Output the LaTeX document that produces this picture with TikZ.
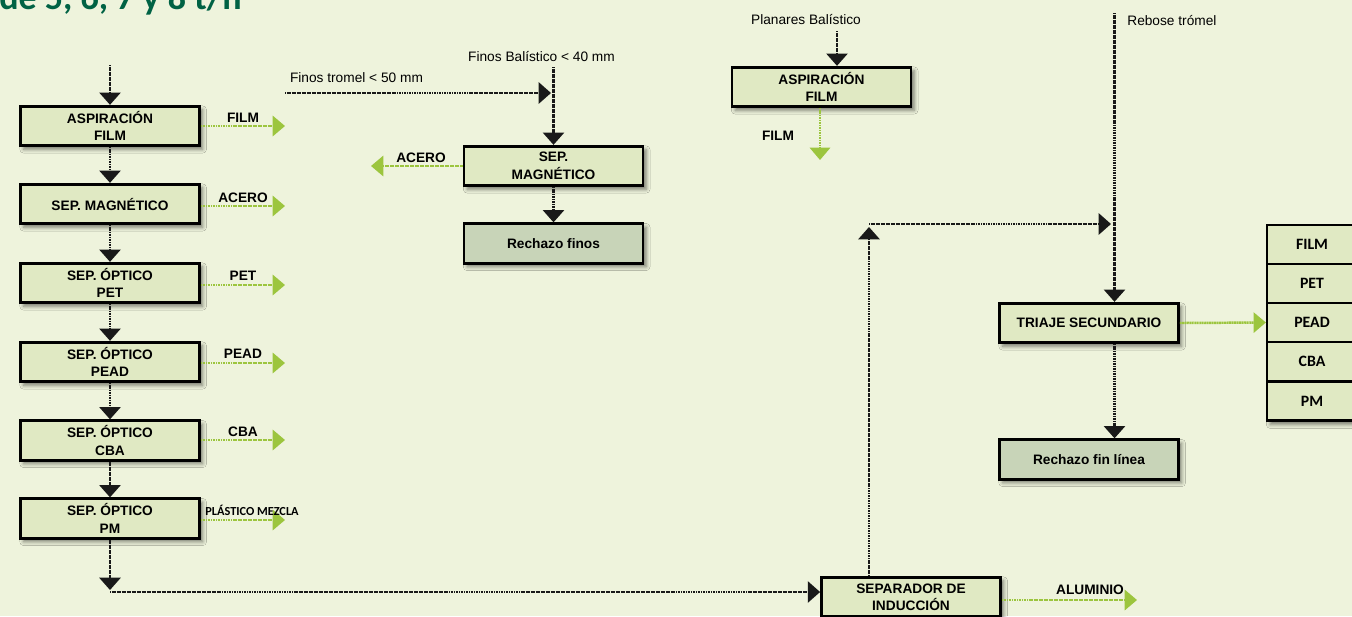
\documentclass[tikz,border=0pt]{standalone}
\usepackage{fontspec}
\setmainfont{Liberation Sans}
\newfontfamily\calfont{Carlito}
\usetikzlibrary{arrows.meta,shadows.blur}

\definecolor{bg}{RGB}{238,243,220}
\definecolor{boxfill}{RGB}{224,233,195}
\definecolor{rejfill}{RGB}{200,212,184}
\definecolor{flowgreen}{RGB}{156,197,62}
\definecolor{titlegreen}{RGB}{0,98,68}

\tikzset{
  boxshadow/.style={blur shadow={shadow xshift=1.8pt, shadow yshift=-2pt,
      shadow blur radius=2.2pt, shadow opacity=50}},
  stepbox/.style={draw=black, line width=1.6pt, fill=boxfill,
      minimum width=3.58cm, minimum height=0.79cm, inner sep=0pt,
      align=center, font=\bfseries\fontsize{7.8}{10}\selectfont, boxshadow},
  rejbox/.style={stepbox, fill=rejfill},
  flow/.style={draw=black!90, line width=1.4pt, dash pattern=on 0.7pt off 0.25pt,
      -{Triangle[length=7pt,width=12pt]}},
  outflow/.style={draw=flowgreen, line width=1.4pt, dash pattern=on 0.7pt off 0.25pt,
      -{Triangle[length=7pt,width=11.5pt]}},
  outlbl/.style={font=\bfseries\fontsize{7.8}{10}\selectfont, anchor=base, inner sep=0pt},
  note/.style={font=\fontsize{7.8}{10}\selectfont, inner sep=0pt},
  cell/.style={draw=black, line width=1.3pt, fill=boxfill,
      minimum width=1.8cm, minimum height=0.78cm, inner sep=0pt,
      font=\calfont\bfseries\fontsize{9}{10}\selectfont}
}

\begin{document}
\begin{tikzpicture}[x=0.02cm, y=-0.02cm]
  % canvas
  \useasboundingbox (0,0) rectangle (1352,616);
  \clip (0,0) rectangle (1352,616);
  \fill[bg] (0,0) rectangle (1352,616);

  % heading (top line cut off)
  \node[anchor=base west, inner sep=0pt, text=titlegreen,
        font=\calfont\bfseries\fontsize{20.5}{24}\selectfont] (title) at (-1,9) {de 5, 6, 7 y 8 t/h};

  % ---------- main sorting line ----------
  \coordinate (a0) at (110,65);
  \node[stepbox] (a1) at (110,126)   {ASPIRACIÓN\\FILM};
  \node[stepbox] (a2) at (110,204)   {SEP. MAGNÉTICO};
  \node[stepbox] (a3) at (110,283)   {SEP. ÓPTICO\\PET};
  \node[stepbox] (a4) at (110,362)   {SEP. ÓPTICO\\PEAD};
  \node[stepbox] (a5) at (110,440.5) {SEP. ÓPTICO\\CBA};
  \node[stepbox] (a6) at (110,518.5) {SEP. ÓPTICO\\PM};
  \coordinate (a7) at (110,590);
  \coordinate (a8) at (110,592);

  \draw[flow] (a0) -- (a1.north);
  \draw[flow] (a1) -- (a2);
  \draw[flow] (a2) -- (a3);
  \draw[flow] (a3) -- (a4);
  \draw[flow] (a4) -- (a5);
  \draw[flow] (a5) -- (a6);
  \draw[flow] (a6) -- (a7);

  % recovered fractions
  \coordinate (o1) at (285,126);
  \coordinate (o2) at (285,206);
  \coordinate (o3) at (285,285);
  \coordinate (o4) at (285,363);
  \coordinate (o5) at (285,440);
  \coordinate (o6) at (285,520);
  \draw[outflow] (a1.east |- o1) -- (o1);
  \draw[outflow] (a2.east |- o2) -- (o2);
  \draw[outflow] (a3.east |- o3) -- (o3);
  \draw[outflow] (a4.east |- o4) -- (o4);
  \draw[outflow] (a5.east |- o5) -- (o5);
  \draw[outflow] (a6.east |- o6) -- (o6);
  \node[outlbl] (l1) at (243,122) {FILM};
  \node[outlbl] (l2) at (243,202) {ACERO};
  \node[outlbl] (l3) at (243,280) {PET};
  \node[outlbl] (l4) at (243,358) {PEAD};
  \node[outlbl] (l5) at (243,436) {CBA};
  \node[outlbl, font=\calfont\bfseries\fontsize{7}{8}\selectfont] (l6) at (252,515) {PLÁSTICO MEZCLA};

  % ---------- fines line ----------
  \node[note] (ft) at (356.5,78) {Finos tromel < 50 mm};
  \node[note] (fb) at (541.5,57) {Finos Balístico < 40 mm};
  \coordinate (ft0) at (285,93);
  \coordinate (fj)  at (551,93);
  \coordinate (fb0) at (553.5,67);
  \node[stepbox] (m1) at (553.5,166)   {SEP.\\MAGNÉTICO};
  \node[rejbox]  (m2) at (553.5,243.5) {Rechazo finos};
  \draw[flow] (ft0) -- (fj);
  \draw[flow] (fb0) -- (m1.north);
  \draw[flow] (m1) -- (m2);
  \coordinate (mo) at (371,166);
  \draw[outflow] (m1.west) -- (mo);
  \node[outlbl] (ml) at (421,162) {ACERO};

  % ---------- ballistic flat fraction ----------
  \node[note] (pb) at (806,20) {Planares Balístico};
  \coordinate (pb0) at (837,31);
  \node[stepbox] (p1) at (821.5,87) {ASPIRACIÓN\\FILM};
  \draw[flow] (pb0) -- (pb0 |- p1.north);
  \coordinate (po) at (820,160);
  \draw[outflow] (p1.south -| po) -- (po);
  \node[outlbl] (pl) at (778,140) {FILM};

  % ---------- trommel overflow and secondary sorting ----------
  \node[note, anchor=west] (rt) at (1127,20.5) {Rebose trómel};
  \coordinate (rt0) at (1114.5,13);
  \node[stepbox] (t1) at (1089,323)   {TRIAJE SECUNDARIO};
  \node[rejbox]  (t2) at (1089,459.5) {Rechazo fin línea};
  \draw[flow] (rt0) -- (rt0 |- t1.north);
  \draw[flow] (t1.south -| rt0) -- (t2.north -| rt0);

  % secondary sorting products
  \path[fill=boxfill, boxshadow] (1267,225) rectangle (1357,421);
  \node[cell] (c1) at (1312,244.5) {FILM};
  \node[cell] (c2) at (1312,283.5) {PET};
  \node[cell] (c3) at (1312,322.5) {PEAD};
  \node[cell] (c4) at (1312,361.5) {CBA};
  \node[cell] (c5) at (1312,401)   {PM};
  \draw[outflow] (t1.east) -- (c3.west);

  % ---------- eddy current separator ----------
  \node[stepbox, font=\bfseries\fontsize{7.8}{9.6}\selectfont] (si) at (911,597) {SEPARADOR DE\\INDUCCIÓN};
  \draw[flow] (a8) -- (a8 -| si.west);
  \coordinate (fu) at (869,227);
  \draw[flow] (si.north -| fu) -- (fu);
  \coordinate (fh) at (869,224);
  \coordinate (fr) at (1111,224);
  \draw[flow] (fh) -- (fr);
  \coordinate (al) at (1137,600);
  \draw[outflow] (si.east |- al) -- (al);
  \node[outlbl] (sl) at (1090,594) {ALUMINIO};
\end{tikzpicture}
\end{document}
